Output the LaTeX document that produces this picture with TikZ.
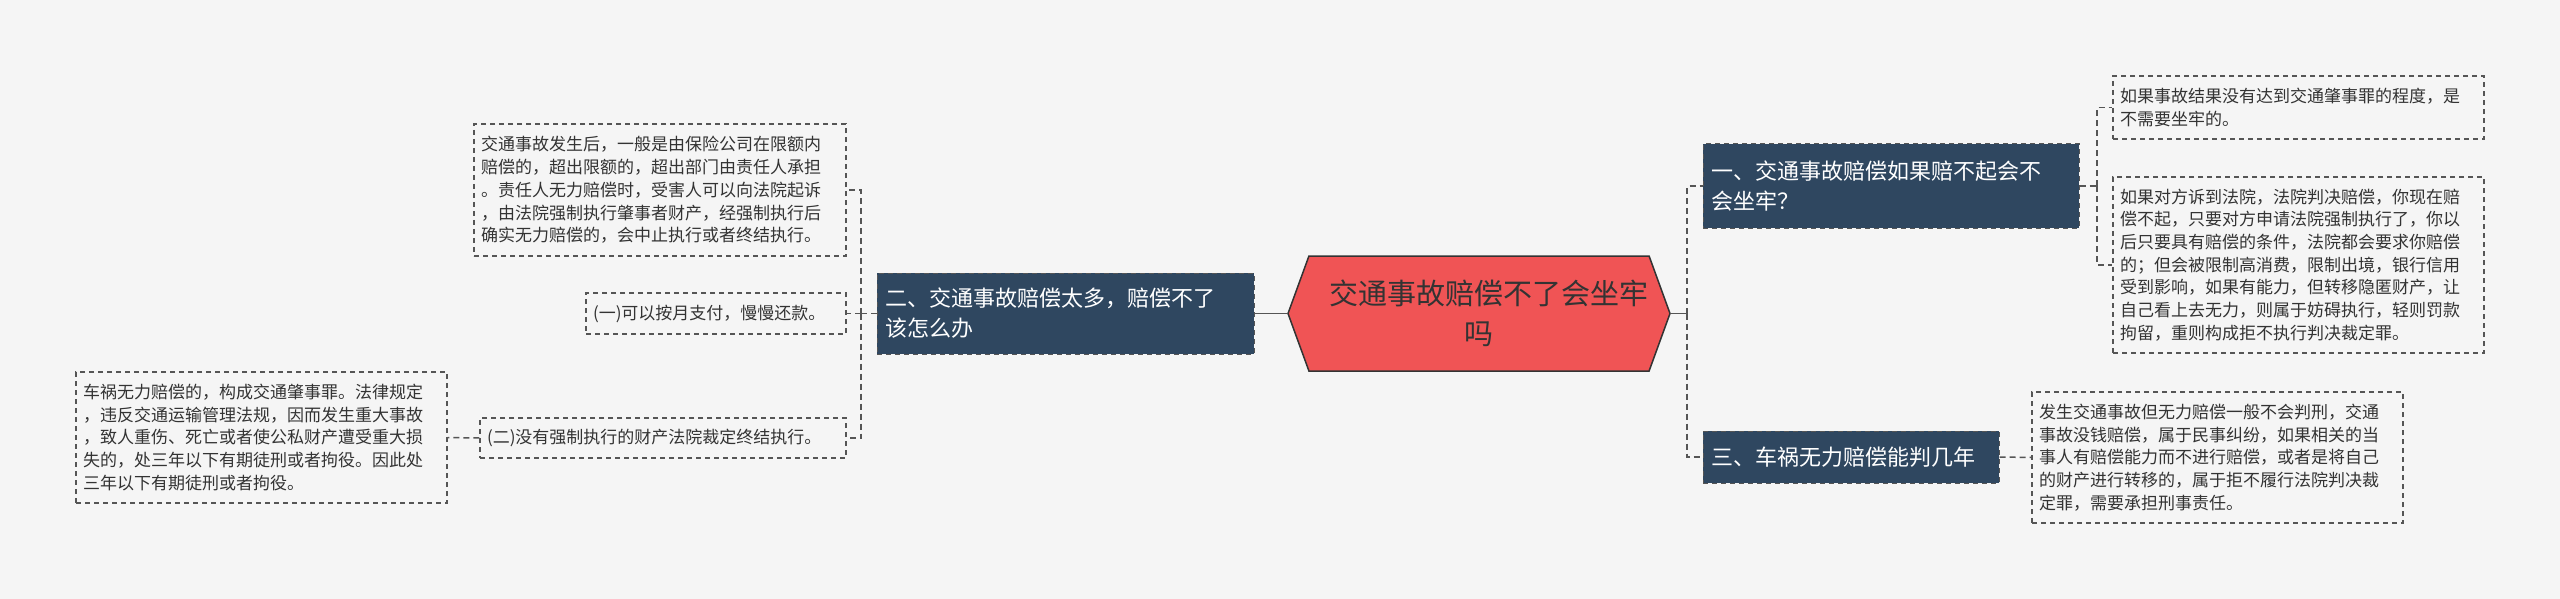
\documentclass[tikz,border=0pt]{standalone}
\usepackage{fontspec}
\setmainfont{Noto Sans CJK SC}
\usetikzlibrary{shapes.symbols}
\definecolor{bg}{HTML}{F5F5F5}
\definecolor{navy}{HTML}{2F4760}
\definecolor{redc}{HTML}{F05455}
\definecolor{linec}{HTML}{555555}
\definecolor{txt}{HTML}{333333}
\tikzset{
  leaf/.style={draw=linec, dashed, dash pattern=on 5pt off 4pt, line width=1.3pt, fill=bg, inner sep=7pt, align=left, text=txt,
    font=\fontsize{17}{22.7}\selectfont},
  branch/.style={fill=navy, draw=linec, dashed, dash pattern=on 5pt off 4pt, line width=1pt, text=white, align=left, inner sep=8pt,
    font=\fontsize{22}{30}\selectfont},
  conn/.style={draw=linec, line width=1.5pt, dashed, dash pattern=on 6pt off 4pt},
  solidc/.style={draw=linec, line width=1.5pt},
}
\newcommand{\lf}[7]{\node[leaf, minimum width=#3pt, minimum height=#4pt, text width=#5pt] (#1) at (#2) {#6};}
\begin{document}
\begin{tikzpicture}[x=1pt,y=-1pt]
\useasboundingbox (0,0) rectangle (2560,599);
\fill[bg] (0,0) rectangle (2560,599);
% center
\node[signal, signal to=east and west, signal pointer angle=140, fill=redc, draw=txt, line width=1.5pt,
  minimum width=382pt, minimum height=115pt, text width=300pt, align=center, font=\fontsize{29}{40}\selectfont, text=txt, inner sep=4pt]
  (C) at (1479,313.5) {交通事故赔偿不了会坐牢\\吗};
% branches
\node[branch, minimum width=377pt, minimum height=81pt, text width=361pt] (B2) at (1065.5,313.5) {二、交通事故赔偿太多，赔偿不了\\该怎么办};
\node[branch, minimum width=376pt, minimum height=84pt, text width=360pt] (B1) at (1891,186) {一、交通事故赔偿如果赔不起会不\\会坐牢？};
\node[branch, minimum width=296pt, minimum height=52pt, text width=280pt] (B3) at (1851,457) {三、车祸无力赔偿能判几年};
% leaves
\lf{L1}{660,190}{372}{132}{358}{交通事故发生后，一般是由保险公司在限额内\\赔偿的，超出限额的，超出部门由责任人承担\\。责任人无力赔偿时，受害人可以向法院起诉\\，由法院强制执行肇事者财产，经强制执行后\\确实无力赔偿的，会中止执行或者终结执行。}{}
\lf{L2}{716,313.5}{260}{41}{246}{(一)可以按月支付，慢慢还款。}{}
\lf{L3}{663,438}{366}{40}{352}{(二)没有强制执行的财产法院裁定终结执行。}{}
\lf{L4}{261.5,437.5}{371}{131}{357}{车祸无力赔偿的，构成交通肇事罪。法律规定\\，违反交通运输管理法规，因而发生重大事故\\，致人重伤、死亡或者使公私财产遭受重大损\\失的，处三年以下有期徒刑或者拘役。因此处\\三年以下有期徒刑或者拘役。}{}
\lf{R1a}{2298.5,107.5}{371}{63}{357}{如果事故结果没有达到交通肇事罪的程度，是\\不需要坐牢的。}{}
\lf{R1b}{2298.5,265}{371}{176}{357}{如果对方诉到法院，法院判决赔偿，你现在赔\\偿不起，只要对方申请法院强制执行了，你以\\后只要具有赔偿的条件，法院都会要求你赔偿\\的；但会被限制高消费，限制出境，银行信用\\受到影响，如果有能力，但转移隐匿财产，让\\自己看上去无力，则属于妨碍执行，轻则罚款\\拘留，重则构成拒不执行判决裁定罪。}{}
\lf{R3}{2217.5,457.5}{371}{131}{357}{发生交通事故但无力赔偿一般不会判刑，交通\\事故没钱赔偿，属于民事纠纷，如果相关的当\\事人有赔偿能力而不进行赔偿，或者是将自己\\的财产进行转移的，属于拒不履行法院判决裁\\定罪，需要承担刑事责任。}{}
% coordinates
\coordinate (lb) at (861,313.5);
\coordinate (rb) at (1687,313.5);
\coordinate (r1) at (2097,186);
% connectors
\draw[solidc] (C.west) -- (B2.east);
\draw[solidc] (C.east) -- (rb);
\draw[conn] (B2.west) -- (lb);
\draw[conn] (lb) |- (L1.east);
\draw[conn] (lb) |- (L3.east);
\draw[conn] (lb) -- (L2.east);
\draw[conn] (L3.west) -- (L4.east);
\draw[conn] (rb) |- (B1.west);
\draw[conn] (rb) |- (B3.west);
\draw[conn] (B1.east) -- (r1);
\draw[conn] (r1) |- (R1a.west);
\draw[conn] (r1) |- (R1b.west);
\draw[conn] (B3.east) -- (R3.west);
\end{tikzpicture}
\end{document}
